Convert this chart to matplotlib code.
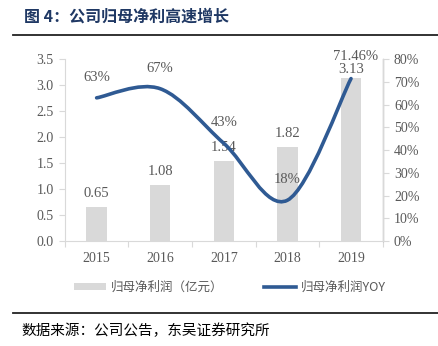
import matplotlib
matplotlib.use("Agg")
import matplotlib.pyplot as plt
from matplotlib.path import Path
from matplotlib.patches import PathPatch, Patch
from matplotlib.lines import Line2D
import numpy as np

plt.rcParams['font.family'] = ['Noto Sans CJK SC', 'DejaVu Sans']

years = ["2015", "2016", "2017", "2018", "2019"]
profit = [0.65, 1.08, 1.54, 1.82, 3.13]          # 归母净利润（亿元）
yoy = [63, 67, 43, 18, 71.46]                      # 归母净利润YOY (%)
yoy_labels = ["63%", "67%", "43%", "18%", "71.46%"]
profit_labels = ["0.65", "1.08", "1.54", "1.82", "3.13"]

BAR = "#D9D9D9"
LINE = "#2F5A93"
TXT = "#595959"
SPINE = "#D9D9D9"
NAVY = "#1F3864"
SERIF = "Liberation Serif"

fig = plt.figure(figsize=(4.38, 3.46), dpi=100)
ax = fig.add_axes([0.148, 0.303, 0.726, 0.526])
ax2 = ax.twinx()

x = np.arange(len(years))
ax.bar(x, profit, width=0.32, color=BAR, zorder=1)
ax.set_xlim(-0.5, 4.5)
ax.set_ylim(0, 3.5)
ax.set_yticks(np.arange(0, 3.51, 0.5))
ax.set_yticklabels([f"{v:.1f}" for v in np.arange(0, 3.51, 0.5)],
                   fontfamily=SERIF, fontsize=10, color=TXT)

ax.set_xticks(np.arange(-0.5, 4.6, 1.0))
ax.set_xticklabels([])
ax.set_xticks(x, minor=True)
ax.set_xticklabels(years, minor=True, fontfamily=SERIF, fontsize=10, color=TXT)
ax.tick_params(axis='x', which='major', length=4, color=SPINE, direction='out')
ax.tick_params(axis='x', which='minor', length=0, pad=8)
ax.tick_params(axis='y', length=4, color=SPINE, pad=4)

ax.spines["top"].set_visible(False)
ax2.spines["top"].set_visible(False)
ax.spines["left"].set_color(SPINE)
ax.spines["bottom"].set_color(SPINE)
ax2.spines["right"].set_color(SPINE)
ax2.spines["left"].set_visible(False)
ax2.spines["bottom"].set_visible(False)

for xi, v, lab in zip(x, profit, profit_labels):
    off = 2 if lab == "3.13" else 5
    ax.annotate(lab, (xi, v), xytext=(0, off), textcoords="offset points",
                ha="center", va="bottom", fontfamily=SERIF, fontsize=10.5,
                color=TXT, zorder=5)

ax2.set_ylim(0, 80)
ax2.set_yticks(np.arange(0, 81, 10))
ax2.set_yticklabels([f"{v}%" for v in range(0, 81, 10)],
                    fontfamily=SERIF, fontsize=10, color=TXT)
ax2.tick_params(axis='y', length=4, color=SPINE, pad=4)

# smoothed YOY line: Catmull-Rom segments expressed as cubic Bezier curves
pts = np.column_stack([x, yoy]).astype(float)
ext = np.vstack([pts[0], pts, pts[-1]])
verts = [tuple(pts[0])]
codes = [Path.MOVETO]
for i in range(len(pts) - 1):
    p0, p1, p2, p3 = ext[i], ext[i + 1], ext[i + 2], ext[i + 3]
    c1 = p1 + (p2 - p0) / 6.0
    c2 = p2 - (p3 - p1) / 6.0
    verts += [tuple(c1), tuple(c2), tuple(p2)]
    codes += [Path.CURVE4] * 3
ax2.add_patch(PathPatch(Path(verts, codes), facecolor="none", edgecolor=LINE,
                        lw=2.6, capstyle="round", zorder=3))

for xi, v, lab in zip(x, yoy, yoy_labels):
    ax2.annotate(lab, (xi, v), xytext=(3 if lab == "71.46%" else 0, 10 if lab != "71.46%" else 11),
                 textcoords="offset points", ha="center", va="bottom",
                 fontfamily=SERIF, fontsize=10.5, color=TXT, zorder=5)

handles = [Patch(facecolor=BAR, edgecolor="none"),
           Line2D([0], [0], color=LINE, lw=2.6)]
fig.legend(handles, ["归母净利润（亿元）", "归母净利润YOY"], ncol=2,
           loc="center", bbox_to_anchor=(0.525, 0.17), frameon=False,
           fontsize=9, labelcolor=TXT, handlelength=2.6, handleheight=0.5,
           columnspacing=3.2, handletextpad=0.4)

fig.text(0.055, 0.952, "图 4：公司归母净利高速增长", fontsize=11.5, fontweight="bold",
         color=NAVY, va="center", ha="left")
fig.add_artist(Line2D([0.03, 1.0], [0.899, 0.899], color="#222222", lw=1.3))
fig.add_artist(Line2D([0.03, 1.0], [0.095, 0.095], color="#222222", lw=1.3))
fig.text(0.05, 0.045, "数据来源：公司公告，东吴证券研究所", fontsize=10.5,
         color="black", va="center", ha="left")

fig.savefig("out.png", dpi=100)
